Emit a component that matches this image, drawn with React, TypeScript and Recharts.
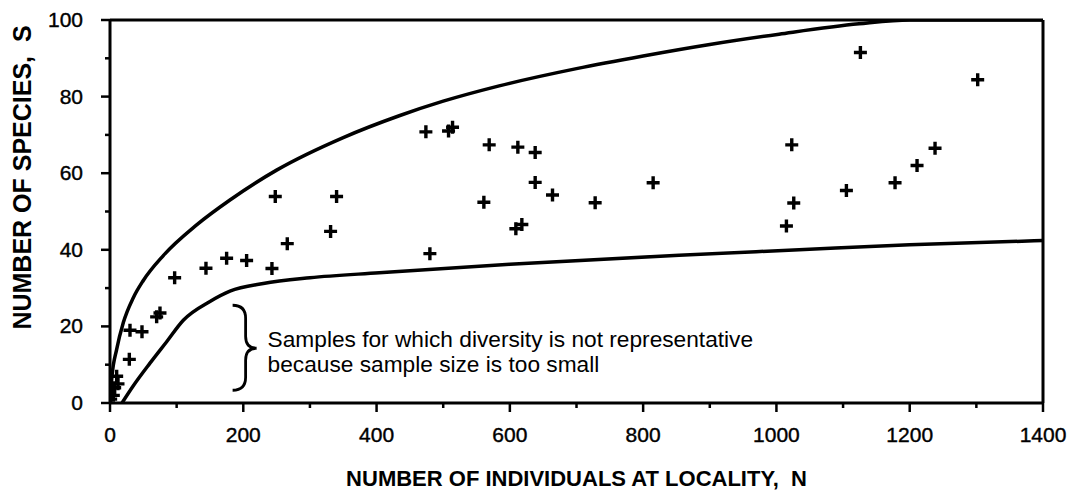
import { ComposedChart, Line, Scatter, XAxis, YAxis, ReferenceLine, ReferenceDot } from "recharts"

// sampled localities
const individualsN = [1, 5, 7, 10, 12, 29, 30, 48, 70, 75, 97, 144, 175, 205, 243, 266, 248, 331, 340, 474, 508, 514, 569, 612, 638, 638, 664, 561, 728, 815, 609, 618, 480, 1023, 1026, 1015, 1105, 1178, 1211, 1238, 1126, 1302]
const speciesS = [1, 2, 4, 7, 5, 11.4, 19, 18.6, 22.5, 23.5, 32.7, 35.2, 37.8, 37.2, 35.1, 41.6, 53.9, 44.8, 53.9, 70.8, 71, 72, 67.4, 66.8, 65.4, 57.6, 54.3, 52.4, 52.3, 57.5, 45.5, 46.6, 39, 67.4, 52.2, 46.2, 55.5, 57.5, 62, 66.5, 91.5, 84.4]

// upper envelope
const upperN = [0, 3, 10, 20, 35, 50, 80, 130, 180, 250, 350, 434, 500, 584, 700, 800, 900, 1004, 1124, 1200, 1400]
const upperS = [0, 7, 14, 21, 27.5, 32, 38.5, 46.5, 53, 60.8, 69.3, 75, 78.8, 82.8, 87.3, 90.6, 93.6, 96.3, 99, 100, 100]

// lower envelope
const lowerN = [18, 35, 60, 85, 110, 150, 180, 230, 300, 404, 600, 854, 1034, 1200, 1400]
const lowerS = [0, 4.5, 10.4, 16, 21.6, 26.5, 29.2, 31.2, 32.7, 34, 36.2, 38.6, 40, 41.3, 42.4]

const xTicks = [0, 100, 200, 300, 400, 500, 600, 700, 800, 900, 1000, 1100, 1200, 1300, 1400]
const yTicks = [0, 10, 20, 30, 40, 50, 60, 70, 80, 90, 100]

const noteLines = ["Samples for which diversity is not representative", "because sample size is too small"]

const points = individualsN.map((n, i) => ({ n, s: speciesS[i] }))
const upper = upperN.map((n, i) => ({ n, s: upperS[i] }))
const lower = lowerN.map((n, i) => ({ n, s: lowerS[i] }))

const FONT = "'Liberation Sans', Arial, sans-serif"

const Plus = (props: any) => {
  const { cx, cy } = props
  if (cx == null || cy == null) return null
  return <path d={`M${cx - 6.5},${cy}H${cx + 6.5}M${cx},${cy - 6.5}V${cy + 6.5}`} stroke="#000" strokeWidth={3.4} />
}

const XTick = (props: any) => {
  const { x, y, payload } = props
  const major = payload.value % 200 === 0
  return (
    <g>
      <line x1={x} y1={y} x2={x} y2={y + (major ? 9 : 5)} stroke="#000" strokeWidth={2.5} />
      {major && (
        <text x={x} y={y + 39} textAnchor="middle" fontSize={21} fontFamily={FONT} fill="#000" stroke="#000" strokeWidth={0.4}>
          {payload.value}
        </text>
      )}
    </g>
  )
}

const YTick = (props: any) => {
  const { x, y, payload } = props
  const major = payload.value % 20 === 0
  return (
    <g>
      <line x1={x - (major ? 9 : 5)} y1={y} x2={x} y2={y} stroke="#000" strokeWidth={2.5} />
      {major && (
        <text x={x - 27} y={y + 7} textAnchor="end" fontSize={21} fontFamily={FONT} fill="#000" stroke="#000" strokeWidth={0.4}>
          {payload.value}
        </text>
      )}
    </g>
  )
}

const XTitle = (props: any) => {
  const { viewBox } = props
  return (
    <text x={viewBox.x + viewBox.width / 2} y={viewBox.y + 83} textAnchor="middle" fontSize={22} fontWeight="bold" fontFamily={FONT} fill="#000" style={{ whiteSpace: "pre" }}>
      NUMBER OF INDIVIDUALS AT LOCALITY,  N
    </text>
  )
}

const YTitle = (props: any) => {
  const { viewBox } = props
  const cx = viewBox.x + 31
  const cy = viewBox.y + viewBox.height / 2 - 34
  return (
    <text x={cx} y={cy} transform={`rotate(-90 ${cx} ${cy})`} textAnchor="middle" fontSize={25} fontWeight="bold" fontFamily={FONT} fill="#000" style={{ whiteSpace: "pre" }}>
      NUMBER OF SPECIES,  S
    </text>
  )
}

// brace + note, anchored at the brace tip
const BraceNote = (props: any) => {
  const { cx, cy } = props
  const d = `M${cx - 24},${cy - 43} Q${cx - 11},${cy - 43} ${cx - 11},${cy - 30} L${cx - 11},${cy - 12} Q${cx - 11},${cy} ${cx},${cy} Q${cx - 11},${cy} ${cx - 11},${cy + 12} L${cx - 11},${cy + 29} Q${cx - 11},${cy + 42} ${cx - 24},${cy + 42}`
  return (
    <g>
      <path d={d} fill="none" stroke="#000" strokeWidth={2.8} />
      {noteLines.map((t, i) => (
        <text key={i} x={cx + 11} y={cy - 1 + i * 25} fontSize={22.7} fontFamily={FONT} fill="#000">
          {t}
        </text>
      ))}
    </g>
  )
}

export default function App() {
  return (
    <div style={{ position: "absolute", left: 0, top: 0, width: 1069, height: 491, background: "#fff" }}>
      <ComposedChart width={1069} height={491} margin={{ top: 20, right: 26, left: 0, bottom: 0 }}>
        <XAxis
          type="number"
          dataKey="n"
          domain={[0, 1400]}
          ticks={xTicks}
          interval={0}
          height={88}
          tickSize={0}
          tickMargin={0}
          tick={<XTick />}
          axisLine={{ stroke: "#000", strokeWidth: 3 }}
          label={<XTitle />}
          allowDataOverflow
        />
        <YAxis
          type="number"
          dataKey="s"
          domain={[0, 100]}
          ticks={yTicks}
          interval={0}
          width={110}
          tickSize={0}
          tickMargin={0}
          tick={<YTick />}
          axisLine={{ stroke: "#000", strokeWidth: 3 }}
          label={<YTitle />}
          allowDataOverflow
        />
        <ReferenceLine y={100} stroke="#000" strokeWidth={3} />
        <ReferenceLine x={1400} stroke="#000" strokeWidth={3} />
        <Line data={upper} dataKey="s" type="monotone" stroke="#000" strokeWidth={3.5} dot={false} isAnimationActive={false} />
        <Line data={lower} dataKey="s" type="monotone" stroke="#000" strokeWidth={3.5} dot={false} isAnimationActive={false} />
        <Scatter data={points} dataKey="s" shape={<Plus />} isAnimationActive={false} />
        <ReferenceDot x={220} y={14.3} r={0} shape={<BraceNote />} ifOverflow="visible" />
      </ComposedChart>
    </div>
  )
}
